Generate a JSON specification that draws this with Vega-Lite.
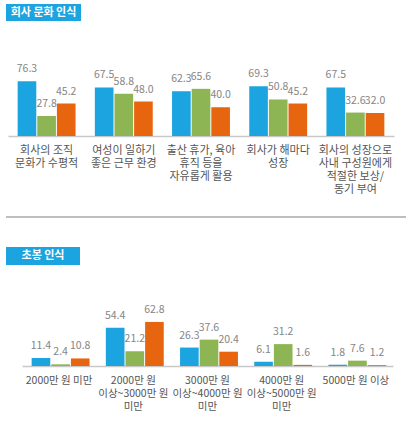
{
  "$schema": "https://vega.github.io/schema/vega-lite/v6.json",
  "padding": {"left": 5, "top": 4, "right": 0, "bottom": 0},
  "spacing": 0,
  "bounds": "flush",
  "config": {
    "view": {"stroke": null},
    "font": "Noto Sans CJK KR",
    "text": {"font": "Noto Sans CJK KR"}
  },
  "datasets": {
    "culture": [
      {"cat": "회사의 조직|문화가 수평적", "series": "1", "value": 76.3},
      {"cat": "회사의 조직|문화가 수평적", "series": "2", "value": 27.8},
      {"cat": "회사의 조직|문화가 수평적", "series": "3", "value": 45.2},
      {"cat": "여성이 일하기|좋은 근무 환경", "series": "1", "value": 67.5},
      {"cat": "여성이 일하기|좋은 근무 환경", "series": "2", "value": 58.8},
      {"cat": "여성이 일하기|좋은 근무 환경", "series": "3", "value": 48.0},
      {"cat": "출산 휴가, 육아|휴직 등을|자유롭게 활용", "series": "1", "value": 62.3},
      {"cat": "출산 휴가, 육아|휴직 등을|자유롭게 활용", "series": "2", "value": 65.6},
      {"cat": "출산 휴가, 육아|휴직 등을|자유롭게 활용", "series": "3", "value": 40.0},
      {"cat": "회사가 해마다|성장", "series": "1", "value": 69.3},
      {"cat": "회사가 해마다|성장", "series": "2", "value": 50.8},
      {"cat": "회사가 해마다|성장", "series": "3", "value": 45.2},
      {"cat": "회사의 성장으로|사내 구성원에게|적절한 보상/|동기 부여", "series": "1", "value": 67.5},
      {"cat": "회사의 성장으로|사내 구성원에게|적절한 보상/|동기 부여", "series": "2", "value": 32.6},
      {"cat": "회사의 성장으로|사내 구성원에게|적절한 보상/|동기 부여", "series": "3", "value": 32.0}
    ],
    "salary": [
      {"cat": "2000만 원 미만", "series": "1", "value": 11.4},
      {"cat": "2000만 원 미만", "series": "2", "value": 2.4},
      {"cat": "2000만 원 미만", "series": "3", "value": 10.8},
      {"cat": "2000만 원|이상~3000만 원|미만", "series": "1", "value": 54.4},
      {"cat": "2000만 원|이상~3000만 원|미만", "series": "2", "value": 21.2},
      {"cat": "2000만 원|이상~3000만 원|미만", "series": "3", "value": 62.8},
      {"cat": "3000만 원|이상~4000만 원|미만", "series": "1", "value": 26.3},
      {"cat": "3000만 원|이상~4000만 원|미만", "series": "2", "value": 37.6},
      {"cat": "3000만 원|이상~4000만 원|미만", "series": "3", "value": 20.4},
      {"cat": "4000만 원|이상~5000만 원|미만", "series": "1", "value": 6.1},
      {"cat": "4000만 원|이상~5000만 원|미만", "series": "2", "value": 31.2},
      {"cat": "4000만 원|이상~5000만 원|미만", "series": "3", "value": 1.6},
      {"cat": "5000만 원 이상", "series": "1", "value": 1.8},
      {"cat": "5000만 원 이상", "series": "2", "value": 7.6},
      {"cat": "5000만 원 이상", "series": "3", "value": 1.2}
    ],
    "badge1": [{"label": "회사 문화 인식"}],
    "badge2": [{"label": "초봉 인식"}],
    "sep": [{"pos": 30}]
  },
  "vconcat": [
    {
      "data": {"name": "badge1"},
      "width": 75,
      "height": 17,
      "view": {"fill": "#1ca4e0", "stroke": null},
      "mark": {"type": "text", "color": "#ffffff", "fontSize": 11, "fontWeight": "bold", "baseline": "middle", "align": "center"},
      "encoding": {"text": {"field": "label"}}
    },
    {
      "data": {"name": "culture"},
      "width": 390,
      "height": 115,
      "encoding": {
        "x": {
          "field": "cat", "type": "nominal", "sort": null,
          "scale": {"range": [2, 388], "paddingInner": 0.25, "paddingOuter": 0.125},
          "axis": {
            "title": null, "labelAngle": 0, "ticks": false, "labelPadding": 8,
            "labelExpr": "split(datum.value, '|')",
            "labelColor": "#555555", "labelFontSize": 11, "labelLineHeight": 13,
            "labelBaseline": "top", "labelOverlap": false, "labelBound": false,
            "domainColor": "#c8c8c8", "domainWidth": 1.5
          }
        },
        "xOffset": {"field": "series", "type": "nominal", "scale": {"paddingInner": 0.05, "paddingOuter": 0}},
        "y": {"field": "value", "type": "quantitative", "scale": {"domain": [0, 160]}, "axis": null}
      },
      "layer": [
        {
          "mark": {"type": "bar"},
          "encoding": {
            "color": {"field": "series", "type": "nominal", "legend": null,
              "scale": {"domain": ["1", "2", "3"], "range": ["#1ca4e0", "#8db553", "#e8650f"]}}
          }
        },
        {
          "mark": {"type": "text", "baseline": "alphabetic", "dy": -9, "fontSize": 10.5, "color": "#858585"},
          "encoding": {"text": {"field": "value", "type": "quantitative", "format": ".1f"}}
        }
      ]
    },
    {
      "data": {"name": "sep"},
      "width": 400,
      "height": 111,
      "mark": {"type": "rule", "color": "#aaaaaa", "strokeWidth": 1.5},
      "encoding": {
        "y": {"field": "pos", "type": "quantitative", "scale": {"domain": [0, 111]}, "axis": null}
      }
    },
    {
      "data": {"name": "badge2"},
      "width": 74,
      "height": 18,
      "view": {"fill": "#1ca4e0", "stroke": null},
      "mark": {"type": "text", "color": "#ffffff", "fontSize": 11, "fontWeight": "bold", "baseline": "middle", "align": "center"},
      "encoding": {"text": {"field": "label"}}
    },
    {
      "data": {"name": "salary"},
      "width": 390,
      "height": 101,
      "encoding": {
        "x": {
          "field": "cat", "type": "nominal", "sort": null,
          "scale": {"range": [16, 387], "paddingInner": 0.26, "paddingOuter": 0.13},
          "axis": {
            "title": null, "labelAngle": 0, "ticks": false, "labelPadding": 9,
            "labelExpr": "split(datum.value, '|')",
            "labelColor": "#555555", "labelFontSize": 10.5, "labelLineHeight": 13,
            "labelBaseline": "top", "labelOverlap": false, "labelBound": false,
            "domainColor": "#c8c8c8", "domainWidth": 1.5
          }
        },
        "xOffset": {"field": "series", "type": "nominal", "scale": {"paddingInner": 0.05, "paddingOuter": 0}},
        "y": {"field": "value", "type": "quantitative", "scale": {"domain": [0, 144]}, "axis": null}
      },
      "layer": [
        {
          "mark": {"type": "bar"},
          "encoding": {
            "color": {"field": "series", "type": "nominal", "legend": null,
              "scale": {"domain": ["1", "2", "3"], "range": ["#1ca4e0", "#8db553", "#e8650f"]}}
          }
        },
        {
          "mark": {"type": "text", "baseline": "alphabetic", "dy": -9, "fontSize": 10.5, "color": "#858585"},
          "encoding": {"text": {"field": "value", "type": "quantitative", "format": ".1f"}}
        }
      ]
    }
  ]
}
